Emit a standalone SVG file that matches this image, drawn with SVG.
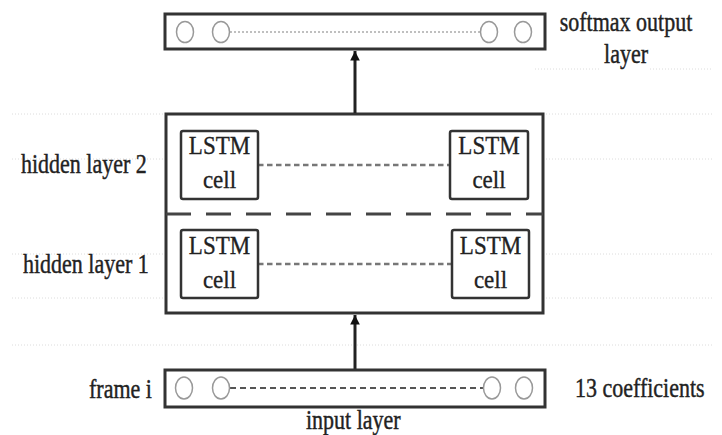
<svg xmlns="http://www.w3.org/2000/svg" width="722" height="435" viewBox="0 0 722 435">
<defs>
<style>
.t{font-family:"Liberation Serif","Times New Roman",serif;font-size:22px;fill:#222;stroke:#222;stroke-width:0.35}
.c{font-family:"Liberation Serif","Times New Roman",serif;font-size:23px;fill:#222;stroke:#222;stroke-width:0.3;text-anchor:middle}
.m{text-anchor:middle}
.box{fill:#fff;stroke:#333;stroke-width:3}
.cellbox{fill:#fff;stroke:#333;stroke-width:2.5}
.unit{fill:#fff;stroke:#999;stroke-width:1.5}
.guide{stroke:#dcdcdc;stroke-width:1;stroke-dasharray:1 2;fill:none}
</style>
<marker id="ah" viewBox="0 0 10 10" refX="10" refY="5" markerWidth="3.2" markerHeight="4.5" orient="auto" markerUnits="strokeWidth">
<path d="M0,0 L10,5 L0,10 z" fill="#111"/>
</marker>
</defs>
<rect width="722" height="435" fill="#fff"/>
<g id="guides">
<line class="guide" x1="535" y1="69" x2="600" y2="69"/>
<line class="guide" x1="650" y1="69" x2="712" y2="69"/>
<line class="guide" x1="12" y1="114" x2="712" y2="114"/>
<line class="guide" x1="12" y1="159" x2="712" y2="159"/>
<line class="guide" x1="12" y1="254" x2="712" y2="254"/>
<line class="guide" x1="12" y1="298" x2="712" y2="298"/>
<line class="guide" x1="12" y1="345" x2="712" y2="345"/>
</g>
<g id="output-layer">
<rect class="box" x="165" y="14" width="380" height="35"/>
<line x1="230" y1="32" x2="480" y2="32" stroke="#aaa" stroke-width="1.5" stroke-dasharray="2 2"/>
<ellipse class="unit" cx="185" cy="32" rx="8.5" ry="10.5"/>
<ellipse class="unit" cx="221" cy="32" rx="8.5" ry="10.5"/>
<ellipse class="unit" cx="489" cy="32" rx="8.5" ry="10.5"/>
<ellipse class="unit" cx="523" cy="32" rx="8.5" ry="10.5"/>
<text class="t m" transform="translate(626,31) scale(1,1.2)">softmax output</text>
<text class="t m" transform="translate(626,63) scale(1,1.2)">layer</text>
</g>
<g id="hidden-block">
<rect class="box" x="166" y="114" width="377" height="199"/>
<line x1="166" y1="214" x2="543" y2="214" stroke="#444" stroke-width="3" stroke-dasharray="25 15"/>
</g>
<g id="connectors">
<line x1="258" y1="165" x2="450" y2="165" stroke="#777" stroke-width="2.5" stroke-dasharray="5.5 3.5"/>
<line x1="258" y1="264" x2="452" y2="264" stroke="#777" stroke-width="2.5" stroke-dasharray="5.5 3.5"/>
<line x1="355" y1="113" x2="355" y2="51" stroke="#222" stroke-width="3" marker-end="url(#ah)"/>
<line x1="355" y1="369" x2="355" y2="315" stroke="#222" stroke-width="3" marker-end="url(#ah)"/>
</g>
<g id="lstm-2a">
<rect class="cellbox" x="181" y="131" width="77" height="68" rx="2"/>
<text class="c" transform="translate(219.5,154) scale(1,1.1)">LSTM</text>
<text class="c" transform="translate(219.5,188) scale(1,1.1)">cell</text>
</g>
<g id="lstm-2b">
<rect class="cellbox" x="450" y="131" width="78" height="68" rx="2"/>
<text class="c" transform="translate(489,154) scale(1,1.1)">LSTM</text>
<text class="c" transform="translate(489,188) scale(1,1.1)">cell</text>
</g>
<g id="lstm-1a">
<rect class="cellbox" x="181" y="230" width="77" height="68" rx="2"/>
<text class="c" transform="translate(219.5,254) scale(1,1.1)">LSTM</text>
<text class="c" transform="translate(219.5,288) scale(1,1.1)">cell</text>
</g>
<g id="lstm-1b">
<rect class="cellbox" x="452" y="230" width="77" height="68" rx="2"/>
<text class="c" transform="translate(490.5,254) scale(1,1.1)">LSTM</text>
<text class="c" transform="translate(490.5,288) scale(1,1.1)">cell</text>
</g>
<g id="labels">
<text class="t" transform="translate(21,173) scale(1,1.2)">hidden layer 2</text>
<text class="t" transform="translate(23,273) scale(1,1.2)">hidden layer 1</text>
</g>
<g id="input-layer">
<rect class="box" x="165" y="370" width="380" height="37"/>
<line x1="230" y1="388" x2="483" y2="388" stroke="#555" stroke-width="2" stroke-dasharray="6 4"/>
<ellipse class="unit" cx="184" cy="388" rx="8.5" ry="11"/>
<ellipse class="unit" cx="221" cy="388" rx="8.5" ry="11"/>
<ellipse class="unit" cx="492" cy="388" rx="8.5" ry="11"/>
<ellipse class="unit" cx="524" cy="388" rx="8.5" ry="11"/>
<text class="t" transform="translate(89,398) scale(1,1.2)">frame i</text>
<text class="t" transform="translate(575,397) scale(1,1.2)">13 coefficients</text>
<text class="t" transform="translate(306,429) scale(1,1.2)">input layer</text>
</g>
</svg>
